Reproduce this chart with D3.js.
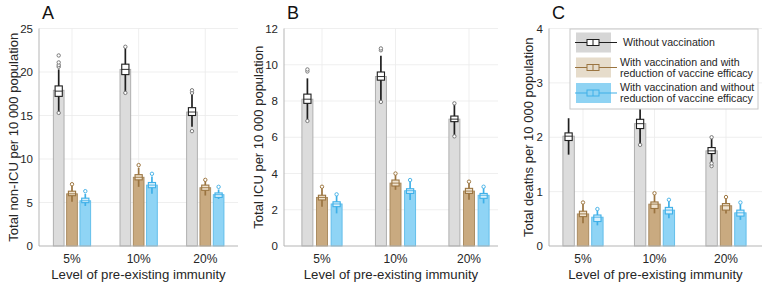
<!DOCTYPE html>
<html>
<head>
<meta charset="utf-8">
<script src="https://cdn.jsdelivr.net/npm/d3@7"></script>
<style>
  body { margin: 0; background: #fff; }
  svg { display: block; font-family: "Liberation Sans", Arial, sans-serif; }
</style>
</head>
<body>
<svg id="chart" width="762" height="283"></svg>
<script>
// ── Data ─────────────────────────────────────────────────────────────────────
const categories = ["5%", "10%", "20%"];
const seriesNames = [
    ["Without vaccination"],
    ["With vaccination and with", "reduction of vaccine efficacy"],
    ["With vaccination and without", "reduction of vaccine efficacy"]
];

// bar heights (mean) per series, one value per category
const nonIcuWithout = [17.9, 20.3, 15.4];
const nonIcuReduced = [6.0, 7.9, 6.7];
const nonIcuFull    = [5.2, 7.0, 5.9];
// box stats [low whisker, q1, median, q3, high whisker]
const nonIcuWithoutBox = [[15.4, 17.2, 17.8, 18.4, 20.3], [17.7, 19.7, 20.3, 20.9, 22.9], [13.7, 15.0, 15.4, 15.9, 17.5]];
const nonIcuReducedBox = [[5.1, 5.8, 6.0, 6.3, 6.9], [6.8, 7.6, 7.9, 8.2, 9.0], [5.8, 6.4, 6.7, 7.0, 7.5]];
const nonIcuFullBox    = [[4.6, 5.0, 5.2, 5.5, 6.0], [6.0, 6.7, 7.0, 7.3, 8.0], [5.4, 5.7, 5.9, 6.1, 6.5]];
const nonIcuWithoutOut = [[15.3, 20.6, 20.8, 21.1, 21.9], [17.6, 22.9], [13.2, 17.6, 17.9]];
const nonIcuReducedOut = [[7.1], [9.3], [7.6]];
const nonIcuFullOut    = [[6.3], [8.3], [6.8]];

const icuWithout = [8.1, 9.35, 7.0];
const icuReduced = [2.68, 3.47, 3.03];
const icuFull    = [2.32, 3.05, 2.8];
const icuWithoutBox = [[6.95, 7.87, 8.1, 8.38, 9.25], [8.0, 9.15, 9.35, 9.6, 10.5], [6.1, 6.86, 7.0, 7.17, 7.87]];
const icuReducedBox = [[2.17, 2.54, 2.68, 2.8, 3.27], [3.1, 3.31, 3.47, 3.64, 4.0], [2.55, 2.9, 3.03, 3.18, 3.55]];
const icuFullBox    = [[1.8, 2.17, 2.32, 2.44, 2.85], [2.54, 2.9, 3.05, 3.16, 3.64], [2.35, 2.63, 2.8, 2.9, 3.27]];
const icuWithoutOut = [[6.9, 9.63, 9.74], [7.95, 10.8, 10.9], [6.05, 7.87]];
const icuReducedOut = [[3.27], [4.0], [3.55]];
const icuFullOut    = [[2.85], [3.64], [3.27]];

const deathsWithout = [2.02, 2.25, 1.75];
const deathsReduced = [0.59, 0.77, 0.74];
const deathsFull    = [0.53, 0.66, 0.61];
const deathsWithoutBox = [[1.68, 1.94, 2.02, 2.08, 2.35], [1.87, 2.16, 2.25, 2.33, 2.6], [1.49, 1.7, 1.75, 1.81, 2.0]];
const deathsReducedBox = [[0.42, 0.54, 0.59, 0.64, 0.78], [0.6, 0.69, 0.77, 0.81, 0.95], [0.6, 0.66, 0.74, 0.78, 0.88]];
const deathsFullBox    = [[0.38, 0.45, 0.53, 0.57, 0.66], [0.51, 0.59, 0.66, 0.71, 0.83], [0.48, 0.55, 0.61, 0.66, 0.77]];
const deathsWithoutOut = [[], [1.86], [1.47, 1.52, 2.0]];
const deathsReducedOut = [[0.8], [0.97], [0.9]];
const deathsFullOut    = [[0.68], [0.85], [0.8]];

// ── Styles ───────────────────────────────────────────────────────────────────
const STYLE = [
    { fill: "#dcdcdc", stroke: "#a9a9a9", line: "#1f1f1f", box: "#ffffff", dot: "#7a7a7a", patch: "#d6d6d6" },
    { fill: "#c9aa80", stroke: "#a5865a", line: "#9a7440", box: "#efe3d0", dot: "#a07a45", patch: "#e6dccb" },
    { fill: "#8fd4f5", stroke: "#5bbbe9", line: "#3fb0e8", box: "#d8f0fc", dot: "#4db5e8", patch: "#8fd3f3" }
];

const panels = [
    { letter: "A", label: "Total non-ICU per 10 000 population", max: 25, step: 5,
      left: 39, right: 238, c0: 72, c2: 205.3, off: 13.3, bw: 10.7, ylabX: 13,
      means: [nonIcuWithout, nonIcuReduced, nonIcuFull],
      boxes: [nonIcuWithoutBox, nonIcuReducedBox, nonIcuFullBox],
      outs:  [nonIcuWithoutOut, nonIcuReducedOut, nonIcuFullOut] },
    { letter: "B", label: "Total ICU per 10 000 population", max: 12, step: 2,
      left: 284, right: 498, c0: 322, c2: 469, off: 14.6, bw: 11, ylabX: 258,
      means: [icuWithout, icuReduced, icuFull],
      boxes: [icuWithoutBox, icuReducedBox, icuFullBox],
      outs:  [icuWithoutOut, icuReducedOut, icuFullOut] },
    { letter: "C", label: "Total deaths per 10 000 population", max: 4, step: 1,
      left: 549, right: 762, c0: 583, c2: 726, off: 14.4, bw: 11.4, ylabX: 528,
      means: [deathsWithout, deathsReduced, deathsFull],
      boxes: [deathsWithoutBox, deathsReducedBox, deathsFullBox],
      outs:  [deathsWithoutOut, deathsReducedOut, deathsFullOut], legend: true }
];

const TOP = 28.5, BOTTOM = 246;
const svg = d3.select("#chart");

// ── Panels ───────────────────────────────────────────────────────────────────
function drawPanel(p) {
    const g = svg.append("g");
    const x = d3.scalePoint().domain(categories).range([p.c0, p.c2]);
    const y = d3.scaleLinear().domain([0, p.max]).range([BOTTOM, TOP]);
    const ticks = d3.range(0, p.max + p.step / 2, p.step);

    // grid
    g.selectAll(".hg").data(ticks.filter(t => t > 0)).join("line")
        .attr("x1", p.left).attr("x2", p.right)
        .attr("y1", d => y(d)).attr("y2", d => y(d))
        .attr("stroke", "#ebebeb").attr("stroke-width", 0.8);
    g.selectAll(".vg").data(categories).join("line")
        .attr("x1", d => x(d)).attr("x2", d => x(d))
        .attr("y1", TOP).attr("y2", BOTTOM)
        .attr("stroke", "#ebebeb").attr("stroke-width", 0.8);

    // bars + box plots
    p.means.forEach((vals, s) => {
        const st = STYLE[s];
        const dx = (s - 1) * p.off;
        categories.forEach((c, i) => {
            const cx = x(c) + dx;
            g.append("rect")
                .attr("x", cx - p.bw / 2).attr("width", p.bw)
                .attr("y", y(vals[i])).attr("height", y(0) - y(vals[i]))
                .attr("fill", st.fill).attr("stroke", st.stroke).attr("stroke-width", 0.9);

            const [lo, q1, med, q3, hi] = p.boxes[s][i];
            const bw = 7.2;
            g.append("line")
                .attr("x1", cx).attr("x2", cx).attr("y1", y(lo)).attr("y2", y(hi))
                .attr("stroke", st.line).attr("stroke-width", 1.7);
            g.append("rect")
                .attr("x", cx - bw / 2).attr("width", bw)
                .attr("y", y(q3)).attr("height", Math.max(y(q1) - y(q3), 4.5))
                .attr("fill", st.box).attr("stroke", st.line).attr("stroke-width", 1.1);
            g.append("line")
                .attr("x1", cx - bw / 2).attr("x2", cx + bw / 2)
                .attr("y1", y(med)).attr("y2", y(med))
                .attr("stroke", st.line).attr("stroke-width", 0.9);
            g.selectAll(null).data(p.outs[s][i]).join("circle")
                .attr("cx", cx).attr("cy", d => y(d)).attr("r", 1.7)
                .attr("fill", "#ffffff").attr("stroke", st.dot).attr("stroke-width", 1);
        });
    });

    // axes
    g.append("line").attr("x1", p.left).attr("x2", p.left).attr("y1", TOP).attr("y2", BOTTOM)
        .attr("stroke", "#b5b5b5").attr("stroke-width", 1);
    g.append("line").attr("x1", p.left).attr("x2", p.right).attr("y1", BOTTOM).attr("y2", BOTTOM)
        .attr("stroke", "#b5b5b5").attr("stroke-width", 1);

    g.selectAll(".yt").data(ticks).join("text")
        .attr("x", p.left - 6).attr("y", d => y(d)).attr("dy", "0.35em")
        .attr("text-anchor", "end").attr("font-size", 11.5).attr("fill", "#262626")
        .text(d => d);
    g.selectAll(".xt").data(categories).join("text")
        .attr("x", d => x(d)).attr("y", 263)
        .attr("text-anchor", "middle").attr("font-size", 12).attr("fill", "#262626")
        .text(d => d);

    g.append("text")
        .attr("x", (p.left + Math.min(p.right, 762)) / 2).attr("y", 278.5)
        .attr("text-anchor", "middle").attr("font-size", 13.2).attr("fill", "#262626")
        .text("Level of pre-existing immunity");
    g.append("text")
        .attr("transform", `translate(${p.ylabX},${(TOP + BOTTOM) / 2}) rotate(-90)`)
        .attr("dy", "0.35em")
        .attr("text-anchor", "middle").attr("font-size", 13).attr("fill", "#262626")
        .text(p.label);
    g.append("text")
        .attr("x", p.left + 3).attr("y", 19)
        .attr("font-size", 18).attr("fill", "#111")
        .text(p.letter);

    if (p.legend) drawLegend(g);
}

// ── Legend ───────────────────────────────────────────────────────────────────
function drawLegend(g) {
    const lx = 570, ly = 29, lw = 188, lh = 80;
    g.append("rect").attr("x", lx).attr("y", ly).attr("width", lw).attr("height", lh)
        .attr("fill", "#ffffff").attr("stroke", "#c8c8c8").attr("stroke-width", 1);
    const rowsY = [42.5, 67.5, 93];
    seriesNames.forEach((lines, s) => {
        const st = STYLE[s];
        const cy = rowsY[s];
        g.append("rect").attr("x", 576).attr("y", cy - 10).attr("width", 35).attr("height", 20)
            .attr("fill", st.patch);
        g.append("line").attr("x1", 575).attr("x2", 617).attr("y1", cy).attr("y2", cy)
            .attr("stroke", st.line).attr("stroke-width", 1.1);
        g.append("rect").attr("x", 587).attr("y", cy - 3).attr("width", 12).attr("height", 6)
            .attr("fill", s === 0 ? "#ffffff" : st.patch).attr("stroke", st.line).attr("stroke-width", 1);
        g.append("line").attr("x1", 593).attr("x2", 593).attr("y1", cy - 3).attr("y2", cy + 3)
            .attr("stroke", st.line).attr("stroke-width", 1);
        const tx = s === 0 ? 623 : 620;
        lines.forEach((t, k) => {
            g.append("text")
                .attr("x", tx).attr("y", cy + (k - (lines.length - 1) / 2) * 10.8)
                .attr("dy", "0.35em").attr("font-size", 10.6).attr("fill", "#262626")
                .text(t);
        });
    });
}

panels.forEach(drawPanel);
</script>
</body>
</html>
